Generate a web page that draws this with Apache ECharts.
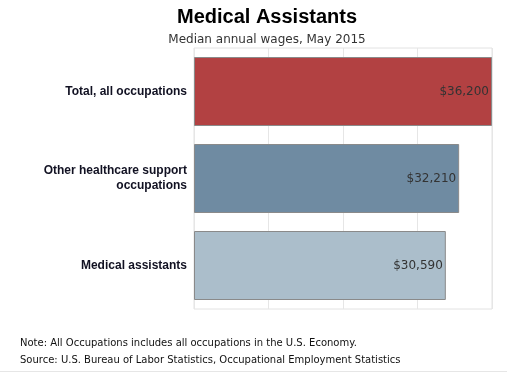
<!DOCTYPE html>
<html><head><meta charset="utf-8">
<script src="https://cdn.jsdelivr.net/npm/echarts@6/dist/echarts.min.js"></script>
<style>html,body{margin:0;padding:0;background:#fff}#c{width:507px;height:374px}</style>
</head><body><div id="c"></div>
<script>
const categories = ["Total, all occupations", "Other healthcare support\noccupations", "Medical assistants"];
const wages = [36200, 32210, 30590];
const barColors = ["#b24142", "#6f8ba2", "#abbecb"];
const titleText = "Medical Assistants";
const subtitleText = "Median annual wages, May 2015";
const noteText = "Note: All Occupations includes all occupations in the U.S. Economy.";
const sourceText = "Source: U.S. Bureau of Labor Statistics, Occupational Employment Statistics";

const chart = echarts.init(document.getElementById('c'), null, {renderer: 'canvas'});
chart.setOption({
  animation: false,
  backgroundColor: '#fff',
  title: [{
    text: titleText, left: 262, textAlign: 'center', top: 2,
    textStyle: {fontFamily: 'Liberation Sans', fontWeight: 'bold', fontSize: 20, color: '#000'}
  }, {
    text: subtitleText, left: 262, textAlign: 'center', top: 29,
    textStyle: {fontFamily: 'DejaVu Sans', fontWeight: 'normal', fontSize: 12, color: '#333'}
  }],
  grid: {left: 194, right: 15, top: 48, bottom: 65, show: true, borderColor: '#e2e2e2', borderWidth: 1},
  xAxis: {
    type: 'value', min: 0, max: 36200, interval: 9050,
    axisLine: {show: false}, axisTick: {show: false}, axisLabel: {show: false},
    splitLine: {lineStyle: {color: '#e6e6e6'}}
  },
  yAxis: {
    type: 'category', data: categories, inverse: true,
    axisLine: {show: false}, axisTick: {show: false},
    axisLabel: {fontFamily: 'Liberation Sans', fontWeight: 'bold', fontSize: 12, color: '#111122', align: 'right', margin: 7, lineHeight: 15}
  },
  series: [{
    type: 'bar', barWidth: 69,
    data: wages.map((v, i) => ({value: v, itemStyle: {color: barColors[i]}})),
    itemStyle: {borderColor: '#8a8a8a', borderWidth: 1},
    label: {
      show: true, position: 'insideRight', distance: 3,
      fontFamily: 'DejaVu Sans', fontSize: 12, color: '#333',
      formatter: p => '$' + p.value.toLocaleString('en-US')
    }
  }],
  graphic: [
    {type: 'text', left: 20, top: 338, style: {text: noteText, font: '10px "DejaVu Sans"', fill: '#111'}},
    {type: 'text', left: 20, top: 355, style: {text: sourceText, font: '10px "DejaVu Sans"', fill: '#111'}},
    {type: 'line', shape: {x1: 0, y1: 371.5, x2: 507, y2: 371.5}, style: {stroke: '#e6e6e6', lineWidth: 1}}
  ]
});
</script></body></html>
